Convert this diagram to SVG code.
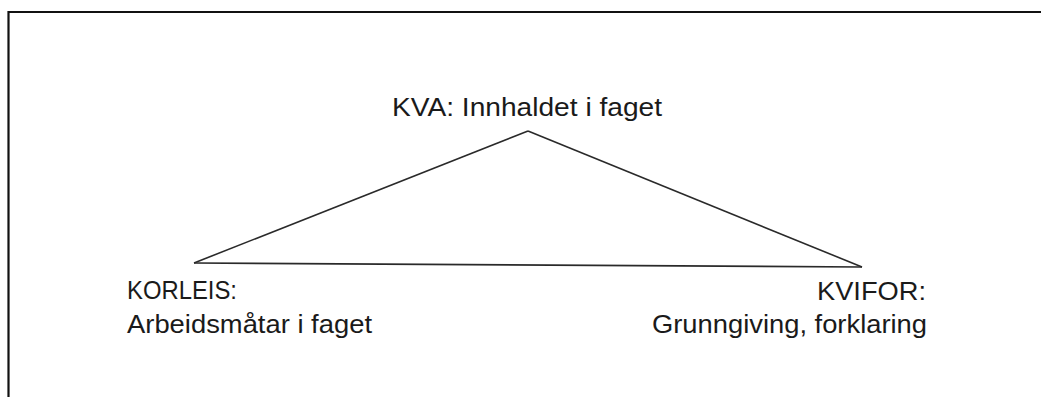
<svg xmlns="http://www.w3.org/2000/svg" width="1041" height="397" viewBox="0 0 1041 397">
<style>
.lbl{font-family:"Liberation Sans",Arial,Helvetica,sans-serif;font-size:26px;fill:#1a1a1a}
.edge{fill:none;stroke:#2a2a2a;stroke-width:1.6;stroke-linejoin:miter}
.frame{fill:none;stroke:#111;stroke-width:2.2}
</style>
<rect width="1041" height="397" fill="#ffffff"/>
<path class="frame" d="M8.5,397 V12 H1041"/>
<g id="connectors">
<path class="edge" d="M528,131 L194,263"/>
<path class="edge" d="M528,131 L862,267"/>
<path class="edge" d="M194,263 L862,267"/>
</g>
<g id="kva">
<text class="lbl" x="392" y="116" textLength="270" lengthAdjust="spacingAndGlyphs">KVA: Innhaldet i faget</text>
</g>
<g id="korleis">
<text class="lbl" x="127" y="299" textLength="110" lengthAdjust="spacingAndGlyphs">KORLEIS:</text>
<text class="lbl" x="127" y="333" textLength="245" lengthAdjust="spacingAndGlyphs">Arbeidsmåtar i faget</text>
</g>
<g id="kvifor">
<text class="lbl" x="817" y="300" textLength="109" lengthAdjust="spacingAndGlyphs">KVIFOR:</text>
<text class="lbl" x="652" y="333" textLength="275" lengthAdjust="spacingAndGlyphs">Grunngiving, forklaring</text>
</g>
</svg>
